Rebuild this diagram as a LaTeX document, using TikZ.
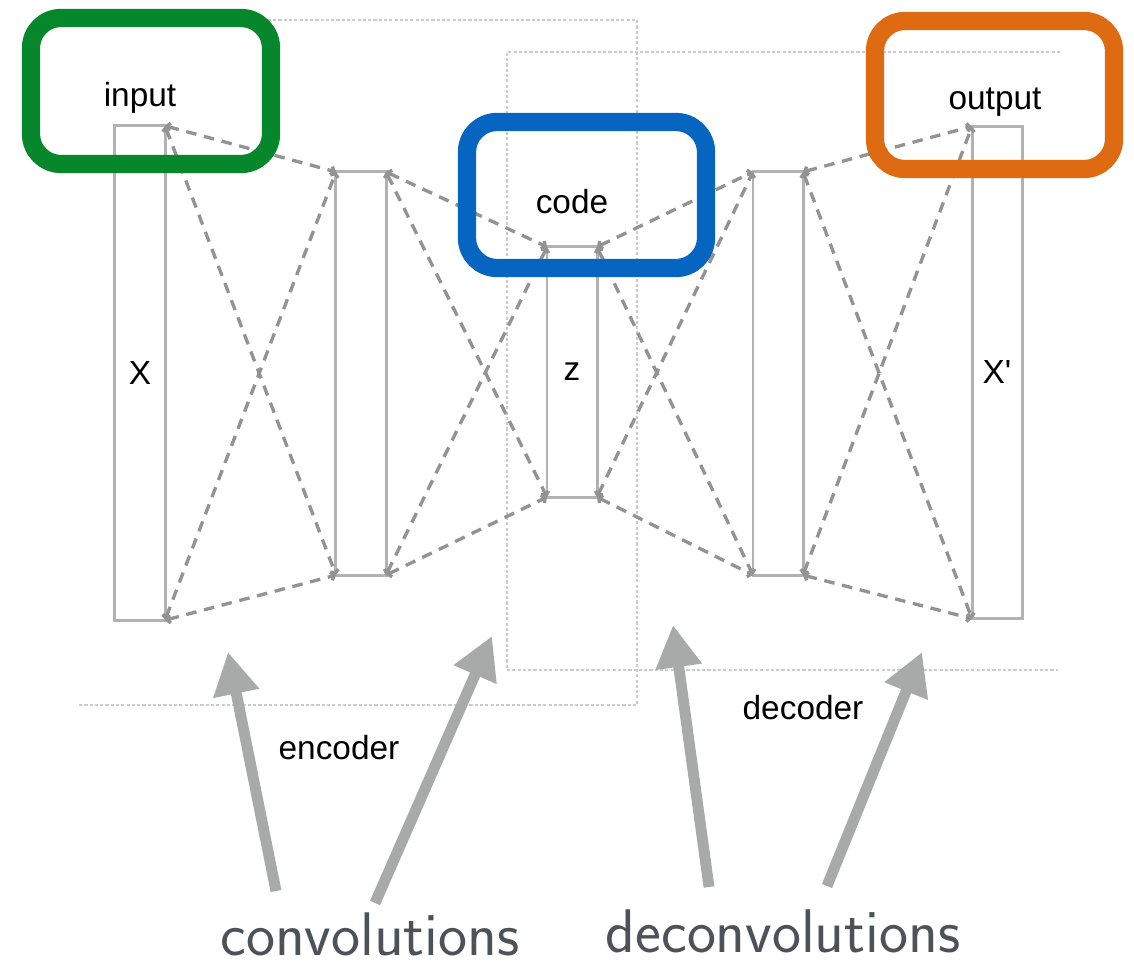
\documentclass[tikz,border=0pt]{standalone}
\usepackage{fontspec}
\newfontfamily\helv{Liberation Sans}
\usetikzlibrary{arrows.meta}
\definecolor{boxgreen}{RGB}{7,135,44}
\definecolor{boxblue}{RGB}{6,101,192}
\definecolor{boxorange}{RGB}{222,106,18}
\definecolor{arrowgray}{RGB}{167,170,169}
\definecolor{textgray}{RGB}{77,82,88}

\begin{document}
\begin{tikzpicture}
	[x = 0.01cm, y = -0.01cm,
	slab/.style = {draw = gray!60, line width = 0.85pt, inner sep = 0pt, outer sep = 0pt, minimum width = 0.5cm, font = \helv\fontsize{9.5}{11}\selectfont},
	wire/.style = {gray!85, line width = 0.95pt, dash pattern = on 3pt off 2.2pt, {Straight Barb[length=0.8pt,width=2.4pt]}-{Straight Barb[length=0.8pt,width=2.4pt]}},
	region/.style = {gray!40, line width = 0.6pt, dash pattern = on 0.9pt off 0.6pt},
	hlbox/.style = {line width = 5.2pt, rounded corners = 0.3cm},
	tag/.style = {font = \helv\fontsize{9.5}{11}\selectfont},
	pointer/.style = {arrowgray, line width = 3.1pt, -{Triangle[length=12pt, width=12.5pt]}},
	caption/.style = {textgray, font = \sffamily\fontsize{17.5}{20}\selectfont}]
	\useasboundingbox (0,0) rectangle (1134,964);
	\draw [region] (78,20) -- (637,20) -- (637,705) -- (78,705);
	\draw [region] (1060,52) -- (507,52) -- (507,670) -- (1058,670);
	\node [slab, minimum height = 4.94cm] (x) at (140,373) {X};
	\node [slab, minimum height = 4.03cm] (h1) at (361,373.5) {};
	\node [slab, minimum height = 2.5cm] (z) at (572,372) {z};
	\node [slab, minimum height = 4.03cm] (h2) at (778,373.5) {};
	\node [slab, minimum height = 4.92cm] (xr) at (997,372.5) {X'};
	\foreach \a/\b in {x/h1, h1/z, z/h2, h2/xr}
	{
		\draw [wire] (\a.north east) -- (\b.north west);
		\draw [wire] (\a.south east) -- (\b.south west);
		\draw [wire] (\a.north east) -- (\b.south west);
		\draw [wire] (\a.south east) -- (\b.north west);
	}
	\node [tag] (input) at (140,98) {input};
	\node [tag] (code) at (572,202) {code};
	\node [tag] (output) at (995,102) {output};
	\node [tag] (enc) at (339,748) {encoder};
	\node [tag] (dec) at (803,708) {decoder};
	\draw [hlbox, boxgreen] (31,18) rectangle (271,164);
	\draw [hlbox, boxblue] (467,122) rectangle (706,268);
	\draw [hlbox, boxorange] (875,21) rectangle (1114,169);
	\coordinate (c1) at (276,891);
	\coordinate (c1tip) at (228,652);
	\coordinate (c2) at (375,903);
	\coordinate (c2tip) at (492,636);
	\coordinate (d1) at (709,887);
	\coordinate (d1tip) at (673,625);
	\coordinate (d2) at (827,886);
	\coordinate (d2tip) at (922,652);
	\draw [pointer] (c1) -- (c1tip);
	\draw [pointer] (c2) -- (c2tip);
	\draw [pointer] (d1) -- (d1tip);
	\draw [pointer] (d2) -- (d2tip);
	\node [caption, anchor = base] (conv) at (370,955) {convolutions};
	\node [caption, anchor = base] (deconv) at (783,952) {deconvolutions};
\end{tikzpicture}
\end{document}
